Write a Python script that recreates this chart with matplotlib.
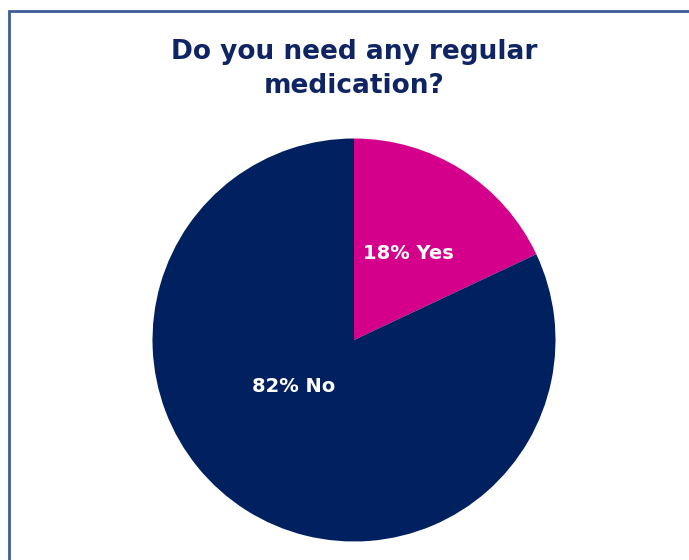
import matplotlib.pyplot as plt
from matplotlib.patches import Rectangle

# données du graphique
categories = ["Yes", "No"]
values = [18, 82]
colors = ["#D4008C", "#002060"]
title = "Do you need any regular\nmedication?"

W, H = 689, 560
fig = plt.figure(figsize=(W / 100, H / 100), dpi=100)
fig.patch.set_facecolor("white")

# cadre bleu (coupé à droite et en bas)
fig.add_artist(Rectangle((8.5 / W, -0.05), 1.1, 1 - 10.5 / H + 0.05,
                         transform=fig.transFigure, fill=False,
                         edgecolor="#3F5C98", linewidth=2))

fig.text(354 / W, 1 - 69 / H, title, ha="center", va="center",
         fontsize=19, fontweight="bold", color="#0F2462", linespacing=1.4)

# axes du camembert : centre (354, 340), rayon ~201 px
cx, cy, r = 354, 340, 201.5
ax = fig.add_axes([(cx - r) / W, (H - cy - r) / H, 2 * r / W, 2 * r / H])
labels = [f"{v}% {c}" for c, v in zip(categories, values)]
wedges, texts = ax.pie(values, colors=colors, startangle=90, counterclock=False,
                       labels=labels, labeldistance=0.5,
                       textprops=dict(color="white", fontsize=14, fontweight="bold"))
texts[0].set_ha("center")
texts[0].set_position((0.27, 0.43))
texts[1].set_position((-0.3, -0.23))
texts[1].set_ha("center")
ax.set_xlim(-1, 1)
ax.set_ylim(-1, 1)
ax.set_aspect("equal")
ax.axis("off")

fig.savefig("out.png", dpi=100)
